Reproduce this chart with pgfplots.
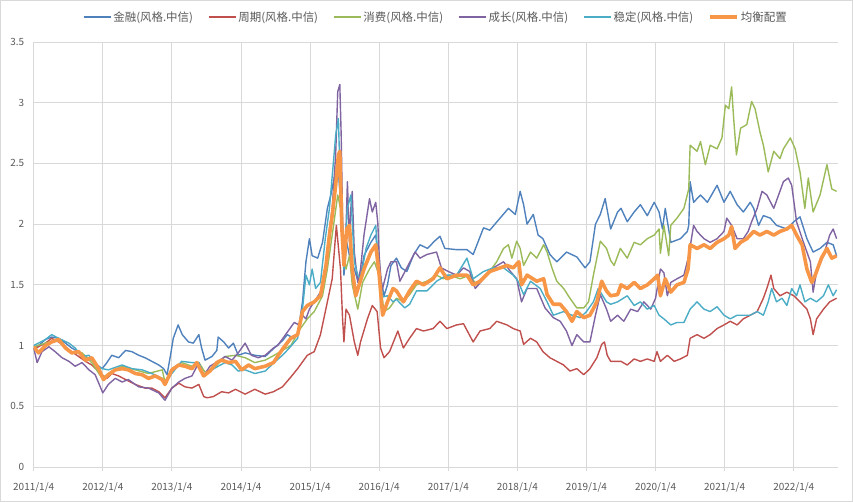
\documentclass[border=0pt]{standalone}
\usepackage{fontspec}
\setmainfont{Noto Sans CJK SC}
\usepackage{pgfplots}
\pgfplotsset{compat=1.18}
\definecolor{cA}{HTML}{4F81BD}
\definecolor{cB}{HTML}{C0504D}
\definecolor{cC}{HTML}{9BBB59}
\definecolor{cD}{HTML}{8064A2}
\definecolor{cE}{HTML}{4BACC6}
\definecolor{cF}{HTML}{F79646}
\definecolor{gridc}{HTML}{D9D9D9}
\definecolor{textc}{HTML}{595959}
\begin{document}
\begin{tikzpicture}
\useasboundingbox (-33.7bp,-35bp) rectangle (819.3bp,467bp);
\draw[gridc, line width=1bp] (-33.2bp,-34.5bp) rectangle (818.8bp,466.5bp);
\begin{axis}[
  at={(0,0)}, anchor=south west,
  scale only axis, width=804.3bp, height=425bp,
  xmin=2011, xmax=2022.64, ymin=0, ymax=3.5,
  xtick={2011,2012,2013,2014,2015,2016,2017,2018,2019,2020,2021,2022},
  xticklabels={2011/1/4,2012/1/4,2013/1/4,2014/1/4,2015/1/4,2016/1/4,2017/1/4,2018/1/4,2019/1/4,2020/1/4,2021/1/4,2022/1/4},
  ytick={0,0.5,1,1.5,2,2.5,3,3.5},
  /pgf/number format/assume math mode=true,
  grid=major, major grid style={color=gridc, line width=0.9bp},
  axis line style={draw=none},
  axis x line*=bottom, axis y line*=left,
  tick align=outside, major tick length=4bp,
  xtick style={color=gridc, line width=0.9bp},
  ytick style={draw=none},
  tick label style={font=\fontsize{10}{12}\selectfont, color=textc},
  xticklabel style={yshift=-8bp},
  yticklabel style={xshift=-2bp},
  legend columns=6,
  legend style={at={(0.5,1)}, anchor=center, yshift=25bp, draw=none, fill=none,
    font=\fontsize{11.5}{13}\selectfont, text=textc,
    /tikz/every even column/.append style={column sep=13bp},
    nodes={inner xsep=2bp}},
  legend image code/.code={\draw[#1] (0bp,0bp) -- (27bp,0bp);},
  every axis plot/.append style={line join=round, line width=1.4bp},
]
\addplot[cA] coordinates {
(2011.00,0.97)(2011.07,1.00)(2011.17,1.05)(2011.26,1.07)(2011.36,1.06)(2011.46,1.02)(2011.55,0.98)(2011.65,0.95)(2011.75,0.91)(2011.84,0.88)(2011.92,0.84)(2011.99,0.81)(2012.06,0.86)(2012.13,0.92)(2012.23,0.90)(2012.33,0.96)(2012.42,0.95)(2012.52,0.92)(2012.61,0.90)(2012.71,0.87)(2012.81,0.84)(2012.88,0.81)(2012.93,0.76)(2012.98,0.92)(2013.02,1.06)(2013.09,1.17)(2013.15,1.09)(2013.24,1.03)(2013.31,1.02)(2013.39,1.09)(2013.43,0.98)(2013.48,0.88)(2013.58,0.91)(2013.65,0.96)(2013.67,1.07)(2013.75,1.03)(2013.82,0.98)(2013.89,1.02)(2013.96,0.92)(2014.06,0.94)(2014.20,0.92)(2014.35,0.91)(2014.48,0.98)(2014.60,1.04)(2014.67,1.09)(2014.76,1.06)(2014.82,1.09)(2014.89,1.36)(2014.94,1.69)(2014.99,1.88)(2015.03,1.74)(2015.11,1.72)(2015.18,1.85)(2015.25,2.13)(2015.30,2.24)(2015.35,2.38)(2015.40,2.50)(2015.44,2.20)(2015.47,1.90)(2015.49,1.58)(2015.53,1.85)(2015.57,1.74)(2015.64,1.63)(2015.71,1.50)(2015.78,1.74)(2015.88,1.85)(2015.95,1.91)(2016.00,1.63)(2016.07,1.41)(2016.12,1.50)(2016.17,1.66)(2016.25,1.72)(2016.32,1.64)(2016.40,1.61)(2016.50,1.75)(2016.59,1.83)(2016.70,1.80)(2016.80,1.86)(2016.88,1.90)(2016.95,1.80)(2017.12,1.79)(2017.27,1.79)(2017.36,1.75)(2017.51,1.97)(2017.60,1.95)(2017.75,2.05)(2017.87,2.13)(2017.97,2.08)(2018.04,2.27)(2018.09,2.16)(2018.14,2.00)(2018.23,2.08)(2018.30,1.91)(2018.37,1.88)(2018.47,1.75)(2018.57,1.69)(2018.71,1.77)(2018.86,1.73)(2018.98,1.64)(2019.05,1.69)(2019.13,2.00)(2019.20,2.08)(2019.27,2.21)(2019.35,1.96)(2019.45,2.10)(2019.50,2.13)(2019.59,2.02)(2019.69,2.10)(2019.78,2.16)(2019.88,2.07)(2019.98,2.18)(2020.05,2.10)(2020.10,1.96)(2020.14,2.13)(2020.22,1.85)(2020.36,1.88)(2020.46,1.94)(2020.48,1.99)(2020.50,2.35)(2020.55,2.18)(2020.65,2.24)(2020.75,2.18)(2020.89,2.32)(2020.99,2.18)(2021.08,2.27)(2021.18,2.16)(2021.27,2.10)(2021.37,2.18)(2021.42,2.13)(2021.49,1.99)(2021.56,2.07)(2021.66,2.05)(2021.75,1.99)(2021.90,1.96)(2022.00,2.02)(2022.09,2.06)(2022.19,1.88)(2022.28,1.77)(2022.38,1.80)(2022.48,1.85)(2022.57,1.83)(2022.62,1.74)
};
\addlegendentry{金融(风格.中信)}
\addplot[cB] coordinates {
(2011.00,0.97)(2011.17,1.02)(2011.26,1.06)(2011.36,1.03)(2011.55,0.95)(2011.75,0.87)(2011.84,0.84)(2011.99,0.76)(2012.06,0.73)(2012.13,0.77)(2012.23,0.75)(2012.33,0.72)(2012.47,0.68)(2012.61,0.65)(2012.71,0.65)(2012.81,0.62)(2012.90,0.57)(2013.00,0.65)(2013.10,0.69)(2013.19,0.66)(2013.29,0.65)(2013.39,0.68)(2013.46,0.58)(2013.51,0.57)(2013.60,0.58)(2013.72,0.62)(2013.82,0.61)(2013.92,0.64)(2014.06,0.60)(2014.20,0.64)(2014.35,0.60)(2014.47,0.62)(2014.60,0.66)(2014.72,0.74)(2014.82,0.81)(2014.96,0.92)(2015.06,0.95)(2015.15,1.09)(2015.25,1.36)(2015.32,1.55)(2015.38,1.99)(2015.44,1.63)(2015.47,1.22)(2015.49,1.03)(2015.52,1.30)(2015.57,1.25)(2015.64,1.03)(2015.69,0.92)(2015.73,1.03)(2015.83,1.22)(2015.90,1.33)(2015.97,1.28)(2016.02,0.98)(2016.07,0.90)(2016.15,0.95)(2016.27,1.12)(2016.35,0.98)(2016.44,1.06)(2016.54,1.14)(2016.64,1.12)(2016.78,1.14)(2016.88,1.20)(2016.98,1.14)(2017.12,1.17)(2017.22,1.18)(2017.36,1.03)(2017.46,1.12)(2017.60,1.14)(2017.70,1.20)(2017.85,1.17)(2017.94,1.14)(2018.04,1.12)(2018.09,1.01)(2018.19,1.06)(2018.28,1.03)(2018.37,0.95)(2018.47,0.90)(2018.57,0.87)(2018.67,0.84)(2018.76,0.79)(2018.86,0.81)(2018.96,0.76)(2019.05,0.81)(2019.15,0.90)(2019.22,1.01)(2019.26,1.03)(2019.30,0.92)(2019.35,0.87)(2019.50,0.87)(2019.59,0.84)(2019.69,0.89)(2019.78,0.87)(2019.88,0.89)(2019.98,0.87)(2020.02,0.95)(2020.07,0.87)(2020.17,0.92)(2020.27,0.87)(2020.36,0.89)(2020.46,0.92)(2020.50,1.06)(2020.60,1.09)(2020.70,1.06)(2020.79,1.09)(2020.89,1.14)(2020.99,1.17)(2021.08,1.20)(2021.18,1.17)(2021.27,1.22)(2021.37,1.25)(2021.47,1.28)(2021.56,1.39)(2021.61,1.47)(2021.67,1.58)(2021.71,1.47)(2021.80,1.41)(2021.90,1.44)(2022.00,1.41)(2022.09,1.36)(2022.19,1.30)(2022.24,1.22)(2022.28,1.09)(2022.33,1.22)(2022.43,1.30)(2022.52,1.36)(2022.62,1.39)
};
\addlegendentry{周期(风格.中信)}
\addplot[cC] coordinates {
(2011.00,0.99)(2011.17,1.02)(2011.36,1.05)(2011.55,0.94)(2011.70,0.94)(2011.84,0.86)(2011.99,0.73)(2012.13,0.79)(2012.28,0.83)(2012.47,0.80)(2012.66,0.77)(2012.86,0.80)(2012.90,0.70)(2013.00,0.81)(2013.14,0.86)(2013.29,0.83)(2013.39,0.86)(2013.48,0.78)(2013.62,0.82)(2013.77,0.91)(2013.92,0.92)(2014.06,0.90)(2014.20,0.86)(2014.35,0.88)(2014.48,0.92)(2014.72,1.00)(2014.86,1.14)(2014.96,1.22)(2015.06,1.28)(2015.18,1.41)(2015.25,1.63)(2015.32,1.91)(2015.40,2.24)(2015.44,2.13)(2015.47,1.80)(2015.52,1.63)(2015.57,1.74)(2015.61,1.50)(2015.69,1.30)(2015.76,1.52)(2015.86,1.63)(2015.93,1.69)(2016.00,1.58)(2016.07,1.28)(2016.15,1.31)(2016.25,1.39)(2016.35,1.36)(2016.44,1.42)(2016.54,1.50)(2016.69,1.53)(2016.83,1.58)(2016.93,1.55)(2017.02,1.58)(2017.17,1.55)(2017.31,1.58)(2017.41,1.50)(2017.56,1.58)(2017.70,1.69)(2017.80,1.80)(2017.87,1.83)(2017.92,1.72)(2017.99,1.86)(2018.04,1.80)(2018.09,1.66)(2018.19,1.77)(2018.28,1.72)(2018.38,1.83)(2018.43,1.77)(2018.50,1.64)(2018.57,1.53)(2018.67,1.47)(2018.76,1.39)(2018.86,1.31)(2018.96,1.31)(2019.03,1.36)(2019.10,1.58)(2019.20,1.86)(2019.29,1.80)(2019.35,1.70)(2019.40,1.66)(2019.49,1.80)(2019.59,1.72)(2019.69,1.85)(2019.78,1.83)(2019.88,1.88)(2019.98,1.91)(2020.05,1.96)(2020.07,1.76)(2020.12,1.99)(2020.19,1.74)(2020.22,1.99)(2020.31,2.05)(2020.41,2.13)(2020.48,2.29)(2020.50,2.65)(2020.60,2.60)(2020.65,2.68)(2020.72,2.49)(2020.79,2.65)(2020.89,2.62)(2020.96,2.71)(2021.01,2.98)(2021.06,2.95)(2021.10,3.13)(2021.13,2.87)(2021.17,2.57)(2021.23,2.79)(2021.32,2.82)(2021.39,3.01)(2021.44,2.95)(2021.51,2.76)(2021.56,2.65)(2021.63,2.43)(2021.71,2.60)(2021.80,2.54)(2021.85,2.62)(2021.95,2.71)(2022.02,2.62)(2022.09,2.43)(2022.16,2.13)(2022.21,2.38)(2022.28,2.10)(2022.38,2.24)(2022.48,2.49)(2022.55,2.29)(2022.62,2.27)
};
\addlegendentry{消费(风格.中信)}
\addplot[cD] coordinates {
(2011.00,0.98)(2011.05,0.86)(2011.12,0.95)(2011.22,0.99)(2011.31,0.95)(2011.41,0.90)(2011.51,0.87)(2011.60,0.83)(2011.70,0.86)(2011.80,0.80)(2011.89,0.76)(2012.00,0.61)(2012.08,0.68)(2012.18,0.73)(2012.28,0.70)(2012.37,0.72)(2012.52,0.66)(2012.66,0.65)(2012.81,0.61)(2012.90,0.55)(2013.00,0.65)(2013.10,0.70)(2013.19,0.73)(2013.29,0.75)(2013.39,0.86)(2013.46,0.75)(2013.55,0.83)(2013.67,0.87)(2013.77,0.91)(2013.87,0.88)(2013.96,0.94)(2014.06,1.02)(2014.15,0.92)(2014.25,0.90)(2014.35,0.92)(2014.47,0.98)(2014.53,1.00)(2014.67,1.11)(2014.77,1.19)(2014.84,1.17)(2014.89,1.25)(2014.94,1.22)(2014.99,1.30)(2015.06,1.36)(2015.15,1.44)(2015.23,1.63)(2015.28,1.96)(2015.32,2.13)(2015.37,2.57)(2015.40,3.09)(2015.43,3.15)(2015.45,2.73)(2015.47,2.05)(2015.49,1.69)(2015.52,1.96)(2015.54,2.35)(2015.57,1.85)(2015.59,2.13)(2015.61,2.27)(2015.64,1.77)(2015.69,1.52)(2015.73,1.63)(2015.78,1.91)(2015.86,2.21)(2015.90,2.10)(2015.95,2.18)(2015.98,2.01)(2016.00,1.74)(2016.04,1.45)(2016.12,1.63)(2016.17,1.69)(2016.25,1.69)(2016.30,1.53)(2016.40,1.64)(2016.52,1.77)(2016.59,1.72)(2016.69,1.75)(2016.83,1.77)(2016.90,1.64)(2017.00,1.61)(2017.12,1.58)(2017.22,1.64)(2017.31,1.61)(2017.39,1.47)(2017.51,1.55)(2017.65,1.64)(2017.80,1.69)(2017.90,1.61)(2017.99,1.55)(2018.06,1.36)(2018.14,1.47)(2018.28,1.47)(2018.40,1.31)(2018.52,1.23)(2018.62,1.20)(2018.71,1.12)(2018.79,1.00)(2018.86,1.09)(2018.96,1.03)(2019.05,1.03)(2019.13,1.25)(2019.20,1.42)(2019.29,1.30)(2019.35,1.20)(2019.45,1.25)(2019.54,1.20)(2019.64,1.30)(2019.74,1.28)(2019.83,1.36)(2019.93,1.30)(2020.00,1.39)(2020.07,1.63)(2020.12,1.60)(2020.17,1.41)(2020.22,1.52)(2020.31,1.55)(2020.41,1.58)(2020.48,1.74)(2020.55,1.99)(2020.60,1.94)(2020.70,1.88)(2020.79,1.85)(2020.89,1.88)(2020.99,1.94)(2021.03,2.05)(2021.10,1.99)(2021.18,1.88)(2021.27,1.88)(2021.34,1.94)(2021.39,2.02)(2021.47,2.13)(2021.54,2.27)(2021.61,2.24)(2021.71,2.13)(2021.78,2.24)(2021.85,2.35)(2021.92,2.38)(2021.97,2.32)(2022.04,2.02)(2022.14,1.85)(2022.24,1.69)(2022.28,1.44)(2022.33,1.61)(2022.43,1.74)(2022.52,1.91)(2022.57,1.96)(2022.62,1.88)
};
\addlegendentry{成长(风格.中信)}
\addplot[cE] coordinates {
(2011.00,1.00)(2011.17,1.05)(2011.26,1.09)(2011.36,1.06)(2011.51,1.02)(2011.60,0.98)(2011.70,0.91)(2011.80,0.92)(2011.89,0.84)(2011.99,0.81)(2012.08,0.80)(2012.18,0.82)(2012.28,0.84)(2012.42,0.81)(2012.57,0.80)(2012.71,0.77)(2012.86,0.73)(2012.90,0.69)(2013.00,0.77)(2013.14,0.87)(2013.29,0.86)(2013.39,0.86)(2013.46,0.76)(2013.58,0.80)(2013.67,0.83)(2013.77,0.86)(2013.87,0.84)(2013.96,0.79)(2014.06,0.80)(2014.20,0.77)(2014.35,0.79)(2014.48,0.86)(2014.60,0.92)(2014.70,0.98)(2014.82,1.06)(2014.89,1.30)(2014.94,1.58)(2014.99,1.50)(2015.03,1.63)(2015.08,1.47)(2015.15,1.52)(2015.22,1.88)(2015.28,2.13)(2015.33,2.46)(2015.37,2.73)(2015.41,2.87)(2015.43,2.46)(2015.47,1.91)(2015.49,1.63)(2015.54,2.13)(2015.59,2.24)(2015.64,1.69)(2015.69,1.58)(2015.73,1.55)(2015.81,1.80)(2015.88,1.91)(2015.95,1.99)(2016.00,1.58)(2016.05,1.40)(2016.12,1.41)(2016.20,1.36)(2016.25,1.38)(2016.37,1.31)(2016.44,1.34)(2016.54,1.45)(2016.69,1.45)(2016.83,1.53)(2016.98,1.58)(2017.12,1.58)(2017.27,1.72)(2017.36,1.55)(2017.51,1.61)(2017.65,1.64)(2017.80,1.64)(2017.94,1.58)(2018.01,1.53)(2018.09,1.42)(2018.19,1.53)(2018.33,1.47)(2018.43,1.36)(2018.52,1.25)(2018.67,1.28)(2018.79,1.25)(2018.91,1.23)(2019.00,1.28)(2019.10,1.36)(2019.17,1.47)(2019.29,1.36)(2019.35,1.34)(2019.45,1.36)(2019.59,1.41)(2019.69,1.33)(2019.78,1.36)(2019.88,1.30)(2019.98,1.33)(2020.05,1.25)(2020.12,1.22)(2020.22,1.17)(2020.31,1.19)(2020.41,1.19)(2020.50,1.30)(2020.60,1.36)(2020.70,1.30)(2020.79,1.28)(2020.89,1.32)(2020.99,1.25)(2021.08,1.22)(2021.18,1.25)(2021.27,1.25)(2021.37,1.25)(2021.47,1.28)(2021.56,1.25)(2021.63,1.36)(2021.68,1.47)(2021.75,1.36)(2021.83,1.39)(2021.90,1.33)(2021.97,1.47)(2022.04,1.41)(2022.09,1.50)(2022.16,1.36)(2022.24,1.39)(2022.33,1.36)(2022.43,1.41)(2022.50,1.50)(2022.57,1.41)(2022.62,1.46)
};
\addlegendentry{稳定(风格.中信)}
\addplot[cF, line width=3.6bp] coordinates {
(2011.00,0.99)(2011.07,0.94)(2011.17,1.00)(2011.26,1.03)(2011.36,1.05)(2011.46,0.98)(2011.55,0.94)(2011.65,0.95)(2011.75,0.88)(2011.84,0.90)(2011.94,0.81)(2012.01,0.72)(2012.08,0.76)(2012.18,0.80)(2012.28,0.81)(2012.37,0.80)(2012.47,0.77)(2012.57,0.76)(2012.66,0.73)(2012.76,0.75)(2012.86,0.72)(2012.90,0.68)(2013.00,0.80)(2013.10,0.84)(2013.19,0.83)(2013.29,0.81)(2013.36,0.86)(2013.46,0.75)(2013.55,0.79)(2013.65,0.86)(2013.72,0.88)(2013.82,0.86)(2013.92,0.87)(2014.01,0.80)(2014.11,0.84)(2014.20,0.81)(2014.35,0.83)(2014.47,0.86)(2014.60,0.97)(2014.72,1.06)(2014.82,1.09)(2014.89,1.28)(2014.96,1.33)(2015.06,1.36)(2015.15,1.41)(2015.23,1.66)(2015.28,1.91)(2015.32,2.07)(2015.37,2.32)(2015.41,2.57)(2015.43,2.60)(2015.46,1.96)(2015.49,1.66)(2015.53,1.96)(2015.57,1.99)(2015.61,1.63)(2015.66,1.41)(2015.71,1.50)(2015.78,1.63)(2015.88,1.77)(2015.95,1.83)(2016.00,1.58)(2016.05,1.25)(2016.12,1.36)(2016.20,1.47)(2016.25,1.45)(2016.35,1.36)(2016.44,1.45)(2016.54,1.53)(2016.64,1.50)(2016.78,1.55)(2016.88,1.64)(2016.98,1.55)(2017.12,1.58)(2017.27,1.58)(2017.36,1.50)(2017.46,1.53)(2017.60,1.61)(2017.75,1.64)(2017.85,1.66)(2017.94,1.64)(2018.02,1.69)(2018.06,1.50)(2018.14,1.58)(2018.28,1.53)(2018.38,1.55)(2018.43,1.42)(2018.52,1.34)(2018.62,1.34)(2018.71,1.28)(2018.79,1.20)(2018.86,1.28)(2018.96,1.23)(2019.05,1.25)(2019.15,1.36)(2019.22,1.53)(2019.29,1.45)(2019.35,1.41)(2019.45,1.42)(2019.50,1.50)(2019.59,1.47)(2019.69,1.52)(2019.78,1.47)(2019.88,1.50)(2019.98,1.55)(2020.03,1.58)(2020.07,1.41)(2020.14,1.55)(2020.22,1.44)(2020.31,1.50)(2020.41,1.52)(2020.47,1.63)(2020.50,1.83)(2020.60,1.80)(2020.70,1.83)(2020.79,1.80)(2020.89,1.85)(2020.99,1.88)(2021.06,1.91)(2021.10,1.98)(2021.15,1.80)(2021.23,1.85)(2021.32,1.88)(2021.42,1.94)(2021.51,1.91)(2021.61,1.94)(2021.71,1.91)(2021.80,1.94)(2021.90,1.96)(2021.97,1.99)(2022.04,1.91)(2022.12,1.83)(2022.19,1.63)(2022.26,1.52)(2022.31,1.58)(2022.40,1.72)(2022.48,1.80)(2022.55,1.72)(2022.62,1.74)
};
\addlegendentry{均衡配置}
\end{axis}
\end{tikzpicture}
\end{document}
